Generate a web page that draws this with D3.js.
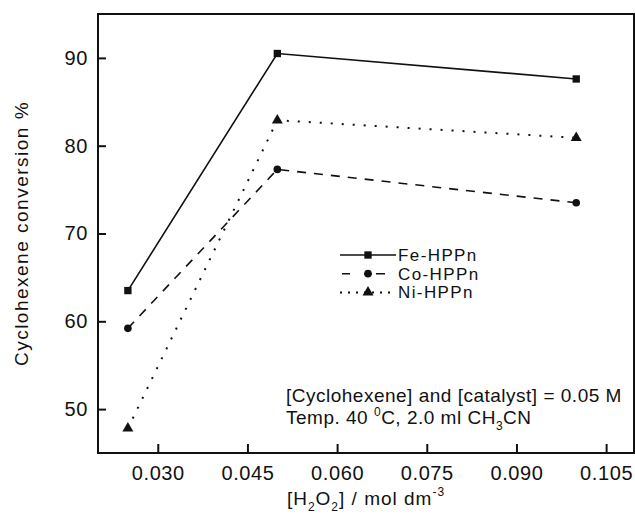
<!DOCTYPE html>
<html>
<head>
<meta charset="utf-8">
<script src="https://cdn.jsdelivr.net/npm/d3@7"></script>
<style>
  body { margin: 0; background: #fff; }
  svg text { font-family: "Liberation Sans", Arial, Helvetica, sans-serif; fill: #111; }
</style>
</head>
<body>
<div id="chart"></div>
<script>
const svgWidth = 635;
const svgHeight = 525;

// data
const h2o2 = [0.025, 0.05, 0.1];
const feConv = [63.5, 90.5, 87.6];
const coConv = [59.2, 77.3, 73.5];
const niConv = [47.8, 82.9, 80.9];
const xTicks = [0.030, 0.045, 0.060, 0.075, 0.090, 0.105];
const yTicks = [50, 60, 70, 80, 90];
const seriesNames = ["Fe-HPPn", "Co-HPPn", "Ni-HPPn"];

const plot = { left: 98, right: 635, top: 14, bottom: 453 };

const svg = d3.select("#chart")
    .append("svg")
    .attr("width", svgWidth)
    .attr("height", svgHeight);

const x = d3.scaleLinear()
    .domain([0.02, 0.11])
    .range([plot.left, plot.right + 1]);

const y = d3.scaleLinear()
    .domain([45, 95])
    .range([plot.bottom, plot.top]);

const series = [
    { name: seriesNames[0], values: feConv, dash: null, legendDash: null, symbol: d3.symbolSquare, size: 54 },
    { name: seriesNames[1], values: coConv, dash: "9,8", legendDash: "0,2,8,14,8,4,9,20", symbol: d3.symbolCircle, size: 46 },
    { name: seriesNames[2], values: niConv, dash: "2,9", legendDash: "2,6", symbol: d3.symbolTriangle, size: 52 }
];

// frame
svg.append("rect")
    .attr("x", plot.left)
    .attr("y", plot.top)
    .attr("width", plot.right - plot.left - 1)
    .attr("height", plot.bottom - plot.top)
    .attr("fill", "none")
    .attr("stroke", "#111")
    .attr("stroke-width", 2);

// axes, ticks pointing inward
const xAxis = svg.append("g")
    .attr("transform", `translate(0, ${plot.bottom})`)
    .call(d3.axisBottom(x).tickValues(xTicks).tickFormat(d3.format(".3f"))
        .tickSizeInner(-9).tickSizeOuter(0));
xAxis.select(".domain").remove();
xAxis.selectAll("line").attr("stroke", "#111").attr("stroke-width", 2);
xAxis.selectAll("text")
    .attr("y", 27)
    .attr("dy", 0)
    .style("font-size", "20px")
    .style("letter-spacing", "0.6px")
    .style("fill", "#111");

const yAxis = svg.append("g")
    .attr("transform", `translate(${plot.left}, 0)`)
    .call(d3.axisLeft(y).tickValues(yTicks)
        .tickSizeInner(-8).tickSizeOuter(0));
yAxis.select(".domain").remove();
yAxis.selectAll("line").attr("stroke", "#111").attr("stroke-width", 2);
yAxis.selectAll("text")
    .attr("x", -10)
    .style("font-size", "20px")
    .style("letter-spacing", "0.6px")
    .style("fill", "#111");

// lines + markers
const line = d3.line()
    .x((d, i) => x(h2o2[i]))
    .y(d => y(d));

series.forEach(s => {
    svg.append("path")
        .datum(s.values)
        .attr("d", line)
        .attr("fill", "none")
        .attr("stroke", "#111")
        .attr("stroke-width", s.dash === "2,9" ? 2 : 1.6)
        .attr("stroke-dasharray", s.dash);

    svg.append("g")
        .selectAll("path")
        .data(s.values)
        .enter().append("path")
        .attr("transform", (d, i) => `translate(${x(h2o2[i])}, ${y(d)})`)
        .attr("d", d3.symbol().type(s.symbol).size(s.size))
        .attr("fill", "#111");
});

// legend
const legend = svg.append("g")
    .attr("transform", "translate(340, 255)");

series.forEach((s, i) => {
    const g = legend.append("g")
        .attr("transform", `translate(0, ${i * 18.7})`);

    g.append("line")
        .attr("x1", 0).attr("x2", 56)
        .attr("stroke", "#111")
        .attr("stroke-width", s.dash === "2,9" ? 2 : 1.6)
        .attr("stroke-dasharray", s.legendDash);

    g.append("path")
        .attr("transform", "translate(28, 0)")
        .attr("d", d3.symbol().type(s.symbol).size(s.size))
        .attr("fill", "#111");

    g.append("text")
        .attr("x", 58)
        .attr("y", 0)
        .attr("dy", "0.35em")
        .style("font-size", "17px")
        .style("letter-spacing", "1.4px")
        .text(s.name);
});

// annotation
const note = svg.append("g")
    .style("font-size", "19px")
    .style("letter-spacing", "0.5px");

note.append("text")
    .attr("x", 286)
    .attr("y", 402)
    .text("[Cyclohexene] and [catalyst] = 0.05 M");

const t2 = note.append("text")
    .attr("x", 286)
    .attr("y", 424);
t2.append("tspan").text("Temp. 40 ");
t2.append("tspan").attr("dy", -8).style("font-size", "12px").text("0");
t2.append("tspan").attr("dy", 8).text("C, 2.0 ml CH");
t2.append("tspan").attr("dy", 6).style("font-size", "12px").text("3");
t2.append("tspan").attr("dy", -6).text("CN");

// axis titles
const xt = svg.append("text")
    .attr("x", 366)
    .attr("y", 505)
    .attr("text-anchor", "middle")
    .style("font-size", "19px")
    .style("letter-spacing", "1px");
xt.append("tspan").text("[H");
xt.append("tspan").attr("dy", 6).style("font-size", "12px").text("2");
xt.append("tspan").attr("dy", -6).text("O");
xt.append("tspan").attr("dy", 6).style("font-size", "12px").text("2");
xt.append("tspan").attr("dy", -6).text("] / mol dm");
xt.append("tspan").attr("dy", -9).style("font-size", "12px").text("-3");

svg.append("text")
    .attr("transform", `translate(28, ${(plot.top + plot.bottom) / 2}) rotate(-90)`)
    .attr("text-anchor", "middle")
    .style("font-size", "19px")
    .style("letter-spacing", "1.5px")
    .text("Cyclohexene conversion %");
</script>
</body>
</html>
